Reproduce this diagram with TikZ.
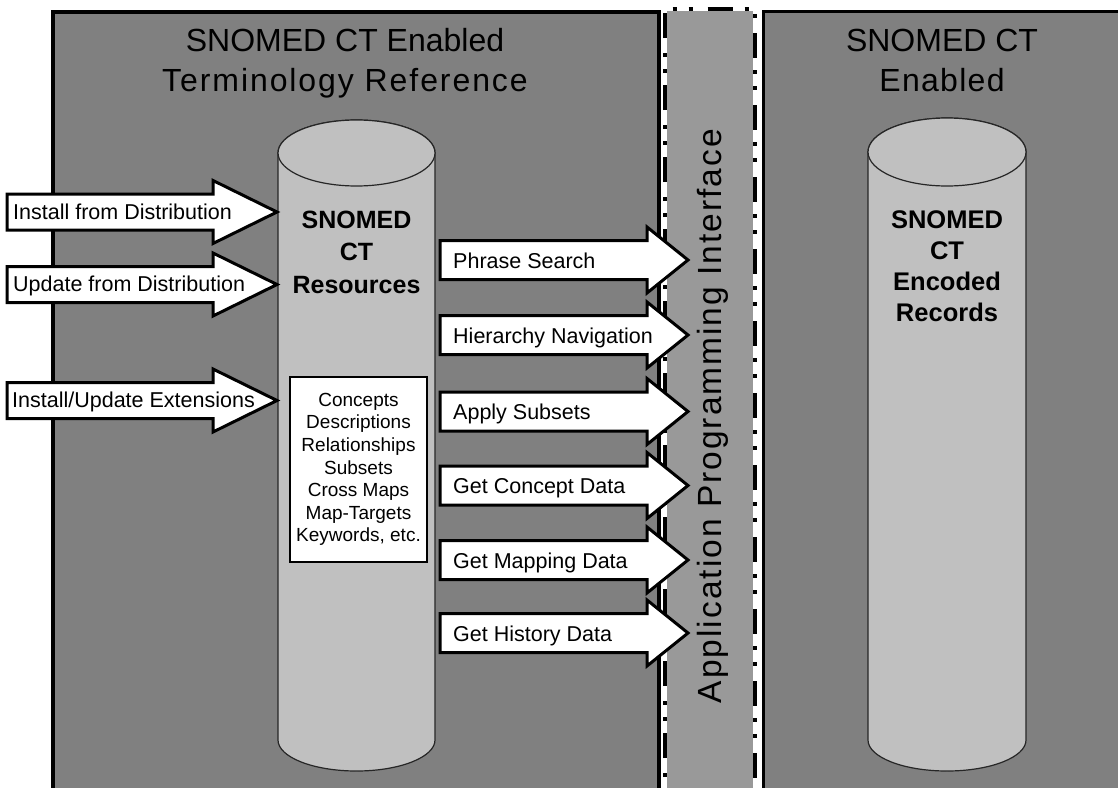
\documentclass[tikz,border=0pt]{standalone}
\usepackage{fontspec}
\setmainfont{Liberation Sans}
\newfontfamily\apifont[LetterSpace=6]{Liberation Sans}
\definecolor{panelgris}{HTML}{808080}
\definecolor{cilgris}{HTML}{C0C0C0}
\definecolor{apigris}{HTML}{999999}
\begin{document}
\begin{tikzpicture}[x=1pt, y=-1pt,
    panel/.style={draw=black, line width=3.5pt, fill=panelgris},
    cilindro/.style={draw=black!85, line width=1.2pt, fill=cilgris},
    flecha/.style={draw=black, line width=3pt, fill=white, line join=miter},
    etiqueta/.style={anchor=base west, inner sep=0pt, font=\fontsize{21.5}{24}\selectfont},
    titulo/.style={anchor=north, inner sep=0pt, align=center, font=\fontsize{32}{40}\selectfont},
    rotulo/.style={anchor=north, inner sep=0pt, align=center, font=\bfseries\fontsize{25}{32.5}\selectfont}]
    \clip (0,0) rectangle (1118,787);
    \fill[white] (0,0) rectangle (1118,787);

    % Paneles de fondo
    \draw[panel] (53,12) rectangle (659,830);
    \draw[panel] (763.5,11.5) rectangle (1160,830);
    \node[titulo] (tituloref) at (345,28.5) {SNOMED CT Enabled\\{\addfontfeatures{LetterSpace=6}Terminology Reference}};
    \node[titulo] (tituloreg) at (942,28.5) {SNOMED CT\\{\addfontfeatures{LetterSpace=4}Enabled}};

    % Franja de la interfaz (API)
    \fill[apigris] (665,8.5) rectangle (755,830);
    \draw[white, line width=4pt] (665,830) -- (665,8.5) -- (755,8.5) -- (755,830);
    \draw[line width=4pt, dash pattern=on 25pt off 12pt on 4pt off 12pt on 4pt off 15pt]
        (665,830) -- (665,8.5) -- (755,8.5) -- (755,830);
    \node[rotate=90, anchor=base, inner sep=0pt, font=\apifont\fontsize{33.5}{36}\selectfont] (api)
        at (721,416) {Application Programming Interface};

    % Cilindros
    \draw[cilindro] (278,153) -- (278,740) arc[start angle=180, end angle=0, x radius=78.5, y radius=31]
        -- (435,153) arc[start angle=0, end angle=-180, x radius=78.5, y radius=33] -- cycle;
    \draw[cilindro] (356.5,153) ellipse [x radius=78.5, y radius=33];
    \draw[cilindro] (868,152) -- (868,740) arc[start angle=180, end angle=0, x radius=79, y radius=31]
        -- (1026,152) arc[start angle=0, end angle=-180, x radius=79, y radius=34] -- cycle;
    \draw[cilindro] (947,152) ellipse [x radius=79, y radius=34];
    \node[rotulo] (recursos) at (356.5,210.5) {SNOMED\\CT\\Resources};
    \node[rotulo, font=\bfseries\fontsize{25.5}{31}\selectfont] (registros) at (947,210) {SNOMED\\CT\\Encoded\\Records};

    % Contenido de los recursos
    \node[draw=black, line width=1.2pt, fill=white, minimum width=137, minimum height=185, inner sep=0pt,
        align=center, font=\fontsize{19}{22.6}\selectfont] (lista) at (358.5,469.5)
        {Concepts\\Descriptions\\Relationships\\Subsets\\Cross Maps\\Map-Targets\\Keywords, etc.};

    % Flechas de entrada
    \draw[flecha] (7,194) -- (213,194) -- (213,180.5) -- (277,212) -- (213,243.5) -- (213,230) -- (7,230) -- cycle;
    \draw[flecha] (7,266.5) -- (213,266.5) -- (213,253) -- (277,284.5) -- (213,316) -- (213,302.5) -- (7,302.5) -- cycle;
    \draw[flecha] (7,382.5) -- (213,382.5) -- (213,369) -- (277,400.5) -- (213,432) -- (213,418.5) -- (7,418.5) -- cycle;
    \node[etiqueta] (instalar) at (13,219) {Install from Distribution};
    \node[etiqueta] (actualizar) at (13,291.5) {Update from Distribution};
    \node[etiqueta] (extensiones) at (12,407.5) {Install/Update Extensions};

    % Flechas hacia la interfaz
    \draw[flecha] (440,240.5) -- (647,240.5) -- (647,227) -- (688,260) -- (647,293) -- (647,279.5) -- (440,279.5) -- cycle;
    \draw[flecha] (440,315.5) -- (647,315.5) -- (647,302) -- (688,335) -- (647,368) -- (647,354.5) -- (440,354.5) -- cycle;
    \draw[flecha] (440,392) -- (647,392) -- (647,378.5) -- (688,411.5) -- (647,444.5) -- (647,431) -- (440,431) -- cycle;
    \draw[flecha] (440,466) -- (647,466) -- (647,452.5) -- (688,485.5) -- (647,518.5) -- (647,505) -- (440,505) -- cycle;
    \draw[flecha] (440,540.5) -- (647,540.5) -- (647,527) -- (688,560) -- (647,593) -- (647,579.5) -- (440,579.5) -- cycle;
    \draw[flecha] (440,613.5) -- (647,613.5) -- (647,600) -- (688,633) -- (647,666) -- (647,652.5) -- (440,652.5) -- cycle;
    \node[etiqueta] (busqueda) at (453,268) {Phrase Search};
    \node[etiqueta] (jerarquia) at (453,343) {Hierarchy Navigation};
    \node[etiqueta] (subconj) at (453,419.5) {Apply Subsets};
    \node[etiqueta] (concepto) at (453,493.5) {Get Concept Data};
    \node[etiqueta] (mapeo) at (453,568) {Get Mapping Data};
    \node[etiqueta] (historia) at (453,641) {Get History Data};
\end{tikzpicture}
\end{document}
